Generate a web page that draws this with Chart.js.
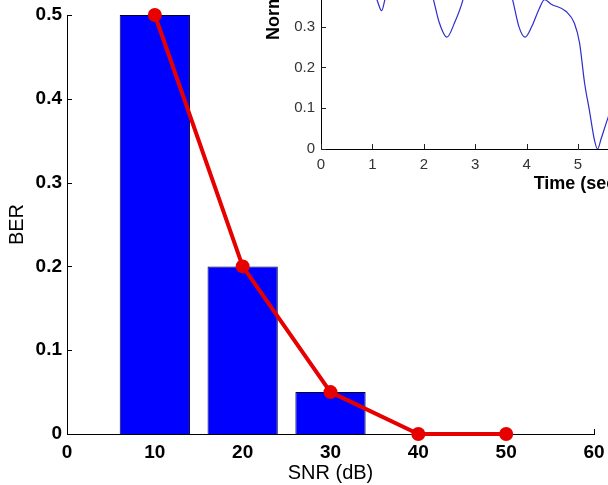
<!DOCTYPE html>
<html>
<head>
<meta charset="utf-8">
<script src="https://cdn.jsdelivr.net/npm/chart.js@4.4.1/dist/chart.umd.min.js"></script>
<style>
  html, body { margin: 0; padding: 0; background: #fff; }
  #wrap { position: relative; width: 608px; height: 485px; overflow: hidden; background: #fff; }
  #main { position: absolute; left: 0; top: 0; }
  #inset { position: absolute; left: 262px; top: -269px; }
</style>
</head>
<body>
<div id="wrap">
  <canvas id="main" width="608" height="485"></canvas>
  <canvas id="inset" width="593" height="468"></canvas>
</div>
<script>
'use strict';
// main plot: BER vs SNR
const snr = [10, 20, 30, 40, 50];
const ber = [0.5, 0.2, 0.05, 0, 0];
const snrTicks = [0, 10, 20, 30, 40, 50, 60];
const berTicks = [0, 0.1, 0.2, 0.3, 0.4, 0.5];

// inset: normalized amplitude vs time (part above 0.37 is cut off in the picture, estimated)
const timeS = [0, 0.4, 0.8, 1.0, 1.09, 1.18, 1.24, 1.4, 1.7, 2.0, 2.19, 2.3, 2.45, 2.6, 2.76,
  3.0, 3.3, 3.55, 3.73, 3.85, 3.97, 4.1, 4.25, 4.35, 4.48, 4.77, 4.93, 5.03, 5.13, 5.22,
  5.32, 5.38, 5.45, 5.55, 5.7];
const normAmp = [0.48, 0.62, 0.47, 0.39, 0.365, 0.339, 0.365, 0.47, 0.58, 0.45, 0.365, 0.31, 0.274, 0.31, 0.365,
  0.5, 0.56, 0.45, 0.365, 0.3, 0.274, 0.3, 0.345, 0.366, 0.355, 0.337, 0.308, 0.26, 0.16, 0.096,
  0.022, 0, 0.025, 0.064, 0.12];
const timeTicks = [0, 1, 2, 3, 4, 5, 6, 7, 8, 9, 10];
const ampTicks = [0, 0.1, 0.2, 0.3, 0.4, 0.5, 0.6, 0.7, 0.8, 0.9, 1];

const FONT = "Arial, 'Liberation Sans', Helvetica, sans-serif";

// matlab style ticks pointing into the axes
const inTicks = {
  id: 'inTicks',
  beforeDatasetsDraw(chart, args, opts) {
    const ctx = chart.ctx;
    const xs = chart.scales.x, ys = chart.scales.y;
    const area = chart.chartArea;
    const len = opts.len || 5;
    ctx.save();
    ctx.strokeStyle = opts.color || '#000';
    ctx.lineWidth = 1;
    ctx.beginPath();
    xs.ticks.forEach(t => {
      const px = Math.round(xs.getPixelForValue(t.value)) + 0.5;
      ctx.moveTo(px, area.bottom);
      ctx.lineTo(px, area.bottom - len);
    });
    ys.ticks.forEach(t => {
      const py = Math.round(ys.getPixelForValue(t.value)) + 0.5;
      ctx.moveTo(area.left, py);
      ctx.lineTo(area.left + len, py);
    });
    ctx.stroke();
    ctx.restore();
  }
};

const pts = (xs, ys) => xs.map((v, i) => ({ x: v, y: ys[i] }));

// fixed box sizes, no extra room for overflowing labels
const fitX = h => s => { s.height = h; s.paddingLeft = 0; s.paddingRight = 0; };
const fitY = w => s => { s.width = w; s.paddingTop = 0; s.paddingBottom = 0; };

new Chart(document.getElementById('main'), {
  type: 'bar',
  data: {
    datasets: [
      {
        type: 'line',
        data: pts(snr, ber),
        borderColor: 'rgb(230,0,0)',
        backgroundColor: 'rgb(230,0,0)',
        borderWidth: 4,
        pointRadius: 7,
        pointBorderWidth: 0,
        clip: false,
        order: 0
      },
      {
        type: 'bar',
        data: pts(snr, ber),
        backgroundColor: '#0000ff',
        borderColor: '#000033',
        borderWidth: 1,
        barPercentage: 0.8,
        categoryPercentage: 1,
        order: 1
      }
    ]
  },
  options: {
    responsive: false,
    animation: false,
    events: [],
    layout: { padding: { top: 15, right: 14, left: 0, bottom: 0 } },
    plugins: { legend: { display: false }, tooltip: { enabled: false }, inTicks: { len: 5 } },
    scales: {
      x: {
        type: 'linear',
        offset: false,
        min: snrTicks[0],
        max: snrTicks[snrTicks.length - 1],
        grid: { display: false, drawTicks: false, offset: false },
        border: { display: true, color: '#000', width: 1 },
        ticks: { stepSize: snrTicks[1] - snrTicks[0], padding: 7, color: '#000', font: { family: FONT, size: 19, weight: 'bold' } },
        title: { display: true, text: 'SNR (dB)', color: '#000', padding: { bottom: 0 }, font: { family: FONT, size: 20 } },
        afterFit: fitX(51)
      },
      y: {
        min: berTicks[0],
        max: berTicks[berTicks.length - 1],
        grid: { display: false, drawTicks: false },
        border: { display: true, color: '#000', width: 1 },
        ticks: { stepSize: berTicks[1] - berTicks[0], padding: 5, color: '#000', font: { family: FONT, size: 19, weight: 'bold' } },
        title: { display: true, text: 'BER', color: '#000', padding: { top: 5 }, font: { family: FONT, size: 20 } },
        afterFit: fitY(67)
      }
    }
  },
  plugins: [inTicks]
});

new Chart(document.getElementById('inset'), {
  type: 'line',
  data: {
    datasets: [{
      data: pts(timeS, normAmp),
      borderColor: 'rgb(45,45,205)',
      borderWidth: 1.2,
      pointRadius: 0,
      cubicInterpolationMode: 'monotone'
    }]
  },
  options: {
    responsive: false,
    animation: false,
    events: [],
    layout: { padding: { top: 10, right: 20, left: 0, bottom: 0 } },
    plugins: { legend: { display: false }, tooltip: { enabled: false }, inTicks: { len: 5, color: '#222' } },
    scales: {
      x: {
        type: 'linear',
        min: timeTicks[0],
        max: timeTicks[timeTicks.length - 1],
        grid: { display: false, drawTicks: false },
        border: { display: true, color: '#000', width: 1 },
        ticks: { stepSize: 1, padding: 7, color: '#333', font: { family: FONT, size: 15 } },
        title: { display: true, text: 'Time (sec)', color: '#000', padding: { bottom: 4 }, font: { family: FONT, size: 18, weight: 'bold' } },
        afterFit: fitX(50)
      },
      y: {
        min: ampTicks[0],
        max: ampTicks[ampTicks.length - 1],
        grid: { display: false, drawTicks: false },
        border: { display: true, color: '#000', width: 1 },
        ticks: { stepSize: ampTicks[1] - ampTicks[0], padding: 6, color: '#333', font: { family: FONT, size: 15 } },
        title: { display: true, text: 'Normalized Amplitude', color: '#000', padding: { top: 1 }, font: { family: FONT, size: 18, weight: 'bold' } },
        afterFit: fitY(59)
      }
    }
  },
  plugins: [inTicks]
});
</script>
</body>
</html>
